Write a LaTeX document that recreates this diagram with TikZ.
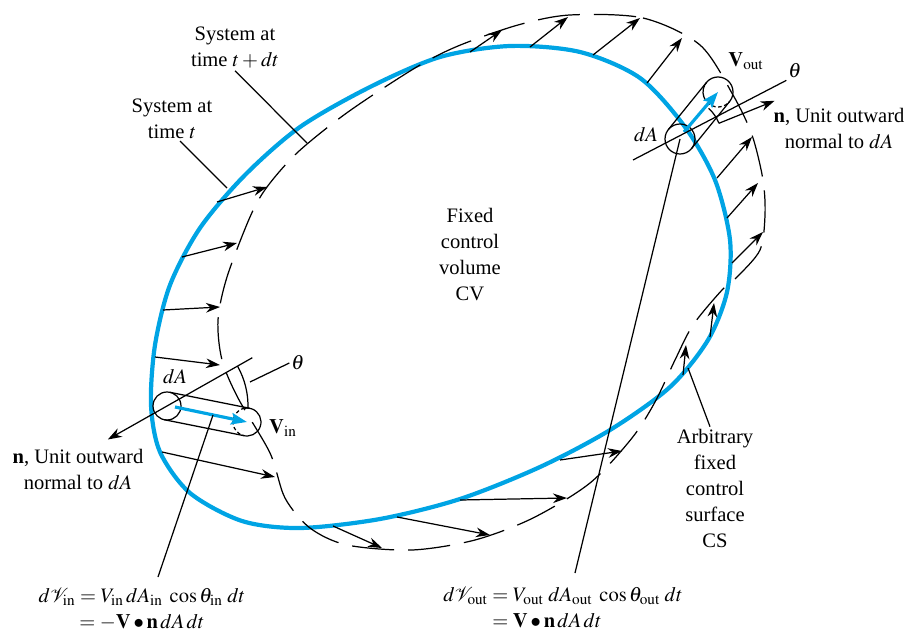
\documentclass[tikz,border=0pt]{standalone}
\usepackage{amsmath}
\usepackage{mathptmx}
\usepackage{fontspec}
\setmainfont{Liberation Serif}
\usetikzlibrary{arrows.meta,calc}
\definecolor{csblue}{RGB}{0,164,228}

\begin{document}
\begin{tikzpicture}[x=0.02cm,y=0.02cm,font=\fontsize{11.7}{14.8}\selectfont,
  ln/.style={line width=0.7pt},
  vec/.style={ln,-{Stealth[length=8pt,width=5.5pt]}},
  bvec/.style={csblue,line width=1.8pt,-{Stealth[length=9pt,width=6.5pt,inset=1.5pt]}},
  hid/.style={ln,dash pattern=on 2pt off 1.5pt},
  lbl/.style={align=center,inner sep=1pt}]
  \useasboundingbox (0,0) rectangle (909,-631);
  % control surface (fixed)
  \draw[csblue,line width=2.4pt] plot[smooth cycle] coordinates {
    (151,-405) (155,-345) (170,-285) (200,-228) (245,-175) (300,-127) (370,-87)
    (440,-57) (510,-46) (580,-52) (640,-78) (685,-127) (715,-180) (730,-240)
    (727,-292) (708,-340) (670,-387) (610,-430) (540,-467) (460,-499) (380,-519)
    (300,-528) (242,-521) (190,-493) (160,-452)};
  % system boundary at t+dt
  \draw[ln,dash pattern=on 24pt off 8pt] plot[smooth cycle] coordinates {
    (570,-15) (643,-18) (700,-45) (733,-95) (752,-135) (763,-180) (765,-215)
    (760,-250) (737,-277) (722,-290) (693,-325) (675,-360) (655,-402) (632,-438)
    (590,-483) (533,-518) (475,-540) (412,-550) (347,-545) (310,-528) (285,-498)
    (270,-453) (238,-398) (222,-360) (218,-320) (227,-277) (250,-217) (267,-187)
    (298,-152) (348,-112) (415,-68) (458,-46) (518,-25)};
  % velocity vectors
  \foreach \xa/\ya/\xb/\yb in {217/202/267/187, 182/257/237/243, 163/310/220/307,
      155/357/220/365, 162/452/275/477, 333/526/382/548, 397/517/490/535,
      460/500/567/498, 560/460/622/451, 683/375/686/345, 710/337/714/303,
      732/263/763/232, 727/218/758/183, 717/178/752/137, 647/83/682/38,
      593/55/640/18, 530/47/568/17, 470/52/502/30}
    \draw[vec] (\xa,-\ya) -- (\xb,-\yb);

  % inflow element
  \coordinate (cin) at (167,-406);
  \coordinate (din) at (247,-422);
  \draw[ln] (cin) circle[radius=14];
  \draw[ln] ($(cin)+(78.7:14)$) -- ($(din)+(78.7:14)$);
  \draw[ln] ($(cin)+(258.7:14)$) -- ($(din)+(258.7:14)$);
  \draw[ln] ($(din)+(-110:14)$) arc[start angle=-110,end angle=100,radius=14];
  \draw[hid] ($(din)+(100:14)$) arc[start angle=100,end angle=250,radius=14];
  \draw[vec] ($(cin)+(29.5:98)$) -- ($(cin)+(209.5:68)$);
  \draw[ln] ($(cin)+(29.5:81)$) arc[start angle=29.5,end angle=-2,radius=81];
  \draw[bvec] (175,-407) -- (din);
  \node[lbl] (dain) at (175,-377) {$dA$};
  \node[lbl] (vin) at (283,-428) {$\mathbf{V}_{\mathrm{in}}$};
  \node[lbl] (thin) at (298,-363) {$\theta$};
  \coordinate (thinA) at (250,-382);
  \draw[ln] (thinA) -- (thin.west);

  % outflow element
  \coordinate (aout) at (680,-139);
  \coordinate (bout) at (718,-92);
  \draw[ln] (aout) circle[radius=15];
  \draw[ln] ($(aout)+(141:15)$) -- ($(bout)+(141:15)$);
  \draw[ln] ($(aout)+(-39:15)$) -- ($(bout)+(-39:15)$);
  \draw[ln] ($(bout)+(-45:15)$) arc[start angle=-45,end angle=200,radius=15];
  \draw[hid] ($(bout)+(200:15)$) arc[start angle=200,end angle=315,radius=15];
  \draw[ln] ($(aout)+(22:42)$) arc[start angle=22,end angle=47,radius=42];
  \draw[vec] ($(aout)+(22:42)$) -- ($(aout)+(22:102)$);
  \draw[bvec] (684,-132) -- (bout);
  \node[lbl] (thout) at (795,-71) {$\theta$};
  \coordinate (thoutB) at (633,-160);
  \draw[ln] (thout.south west) -- (thoutB);
  \node[lbl] (daout) at (646,-135) {$dA$};
  \node[lbl] (vout) at (746,-61) {$\mathbf{V}_{\mathrm{out}}$};

  % labels
  \node[lbl] (nout) at (839,-128) {\textbf{n}, Unit outward\\normal to $dA$};
  \node[lbl] (nin) at (78,-469) {\textbf{n}, Unit outward\\normal to $dA$};
  \node[lbl] (cv) at (470,-255) {Fixed\\control\\volume\\CV};
  \node[lbl] (sysB) at (235,-48) {System at\\time $t + dt$};
  \node[lbl] (sysA) at (172,-119) {System at\\time $t$};
  \node[lbl] (cs) at (715,-488) {Arbitrary\\fixed\\control\\surface\\CS};
  \coordinate (sysBe) at (307,-143);
  \coordinate (sysAe) at (227,-188);
  \coordinate (cse) at (688,-368);
  \draw[ln] (sysB.south) -- (sysBe);
  \draw[ln] (sysA.south) ++(8,0) -- (sysAe);
  \draw[ln] (cs.north) ++(-5,0) -- (cse);

  % volume flow formulas
  \node[lbl] (dvin) at (142,-609)
    {$d\mathcal{V}_{\mathrm{in}} = V_{\mathrm{in}}\,dA_{\mathrm{in}}\;\cos\theta_{\mathrm{in}}\;dt$\\
     $= -\mathbf{V}\bullet\mathbf{n}\,dA\,dt$};
  \node[lbl] (dvout) at (563,-609)
    {$\begin{aligned} d\mathcal{V}_{\mathrm{out}} &= V_{\mathrm{out}}\;dA_{\mathrm{out}}\;\cos\theta_{\mathrm{out}}\;dt\\[-3pt]
      &= \mathbf{V}\bullet\mathbf{n}\,dA\,dt\end{aligned}$};
  \coordinate (dvinA) at (213,-415);
  \coordinate (dvinB) at (158,-577);
  \coordinate (dvoutB) at (575,-573);
  \draw[ln] (dvinA) -- (dvinB);
  \draw[ln] (aout) -- (dvoutB);
\end{tikzpicture}
\end{document}
